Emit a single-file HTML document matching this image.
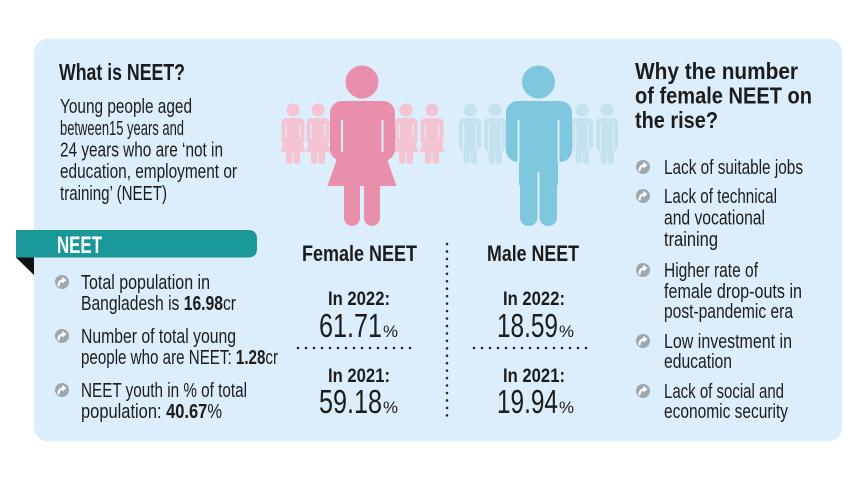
<!DOCTYPE html>
<html>
<head>
<meta charset="utf-8">
<style>
  html,body{margin:0;padding:0;background:#ffffff;}
  svg{display:block;}
  text{font-family:"Liberation Sans", Arial, sans-serif;fill:#1c1c1c;}
  .b{font-weight:bold;}
</style>
</head>
<body>
<svg width="857" height="482" viewBox="0 0 857 482" xmlns="http://www.w3.org/2000/svg">
  <defs>
    <g id="ico">
      <circle cx="0" cy="0" r="7" fill="#9da8ae"/>
      <path d="M-3.5,3.5 Q-3.2,-1.2 1.2,-1.8" fill="none" stroke="#ffffff" stroke-width="2.2" stroke-linecap="round"/>
      <path d="M0.2,-5.2 L4.4,-1.9 L0.4,1.6 Z" fill="#ffffff"/>
    </g>
  </defs>

  <!-- panel -->
  <rect x="34" y="39" width="808" height="402" rx="13" ry="13" fill="#dceefb"/>

  <!-- NEET banner -->
  <path d="M16,230 H248 Q257,230 257,238.5 V249 Q257,257.5 248,257.5 H16 Z" fill="#1a9899"/>
  <path d="M16,257.5 L34,257.5 L34,275 Z" fill="#111111"/>
  <text x="57" y="253" class="b" font-size="24" textLength="45" lengthAdjust="spacingAndGlyphs" style="fill:#ffffff">NEET</text>

  <!-- Left: What is NEET -->
  <text x="59" y="80" class="b" font-size="23" textLength="126" lengthAdjust="spacingAndGlyphs">What is NEET?</text>
  <text x="60" y="113" font-size="20" textLength="132" lengthAdjust="spacingAndGlyphs">Young people aged</text>
  <text x="60" y="135" font-size="20" textLength="124" lengthAdjust="spacingAndGlyphs">between15 years and</text>
  <text x="60" y="156.5" font-size="20" textLength="163" lengthAdjust="spacingAndGlyphs">24 years who are ‘not in</text>
  <text x="60" y="178" font-size="20" textLength="177" lengthAdjust="spacingAndGlyphs">education, employment or</text>
  <text x="60" y="200" font-size="20" textLength="107" lengthAdjust="spacingAndGlyphs">training’ (NEET)</text>

  <!-- Left bullets -->
  <use href="#ico" x="62" y="282"/>
  <text x="81" y="289" font-size="20" textLength="129" lengthAdjust="spacingAndGlyphs">Total population in</text>
  <text x="81" y="310" font-size="20" textLength="155" lengthAdjust="spacingAndGlyphs">Bangladesh is <tspan class="b">16.98</tspan>cr</text>
  <use href="#ico" x="62" y="336"/>
  <text x="81" y="343" font-size="20" textLength="155" lengthAdjust="spacingAndGlyphs">Number of total young</text>
  <text x="81" y="364" font-size="20" textLength="197" lengthAdjust="spacingAndGlyphs">people who are NEET: <tspan class="b">1.28</tspan>cr</text>
  <use href="#ico" x="62" y="390"/>
  <text x="81" y="397" font-size="20" textLength="166" lengthAdjust="spacingAndGlyphs">NEET youth in % of total</text>
  <text x="81" y="418" font-size="20" textLength="141" lengthAdjust="spacingAndGlyphs">population: <tspan class="b">40.67</tspan>%</text>

  <!-- small female figures -->
  <g fill="#f5c4d3">
    <g id="sf">
      <circle cx="293" cy="110" r="6.5"/>
      <rect x="281.5" y="118" width="23" height="27" rx="5"/>
      <path d="M285,138 L301,138 L305.5,152 L280.5,152 Z"/>
      <rect x="286" y="146" width="6.5" height="18" rx="3"/>
      <rect x="293.5" y="146" width="6.5" height="18" rx="3"/>
    </g>
    <use href="#sf" x="25"/>
    <use href="#sf" x="113"/>
    <use href="#sf" x="139"/>
  </g>
  <g fill="#dceefb">
    <rect x="285.5" y="124" width="1.2" height="14"/><rect x="299.3" y="124" width="1.2" height="14"/>
    <rect x="310.5" y="124" width="1.2" height="14"/><rect x="324.3" y="124" width="1.2" height="14"/>
    <rect x="398.5" y="124" width="1.2" height="14"/><rect x="412.3" y="124" width="1.2" height="14"/>
    <rect x="424.5" y="124" width="1.2" height="14"/><rect x="438.3" y="124" width="1.2" height="14"/>
  </g>

  <!-- small male figures -->
  <g fill="#c3e2ee">
    <g id="sm">
      <circle cx="470" cy="110" r="6.5"/>
      <rect x="459" y="118" width="22" height="33" rx="5"/>
      <rect x="463.5" y="140" width="6.5" height="24" rx="3"/>
      <rect x="470.5" y="140" width="6.5" height="24" rx="3"/>
    </g>
    <use href="#sm" x="25"/>
    <use href="#sm" x="112"/>
    <use href="#sm" x="137"/>
  </g>
  <g fill="#dceefb">
    <rect x="463" y="124" width="1.2" height="27"/><rect x="475.8" y="124" width="1.2" height="27"/>
    <rect x="488" y="124" width="1.2" height="27"/><rect x="500.8" y="124" width="1.2" height="27"/>
    <rect x="575" y="124" width="1.2" height="27"/><rect x="587.8" y="124" width="1.2" height="27"/>
    <rect x="600" y="124" width="1.2" height="27"/><rect x="612.8" y="124" width="1.2" height="27"/>
  </g>

  <!-- big female -->
  <g fill="#e98fab">
    <circle cx="362" cy="82" r="16.5"/>
    <rect x="330" y="101" width="65" height="60" rx="12"/>
    <path d="M340,150 L384,150 L396.5,186 L327.5,186 Z"/>
    <rect x="344" y="176" width="16" height="50" rx="8"/>
    <rect x="364" y="176" width="16" height="50" rx="8"/>
  </g>
  <g fill="#dceefb">
    <rect x="341" y="120" width="2" height="32"/>
    <rect x="381.5" y="120" width="2" height="32"/>
  </g>

  <!-- big male -->
  <g fill="#7fc6df">
    <circle cx="538.5" cy="82" r="16.5"/>
    <rect x="506" y="101" width="66" height="61" rx="12"/>
    <rect x="519" y="140" width="39" height="45"/>
    <rect x="520" y="165" width="17.5" height="61" rx="8.5"/>
    <rect x="539.5" y="165" width="17.5" height="61" rx="8.5"/>
  </g>
  <g fill="#dceefb">
    <rect x="517.5" y="120" width="2" height="42"/>
    <rect x="557.5" y="120" width="2" height="42"/>
    <rect x="537.5" y="172" width="2" height="54"/>
  </g>

  <!-- center headings -->
  <text x="302" y="261" class="b" font-size="22" textLength="115" lengthAdjust="spacingAndGlyphs">Female NEET</text>
  <text x="487" y="261" class="b" font-size="22" textLength="92" lengthAdjust="spacingAndGlyphs">Male NEET</text>

  <!-- vertical dotted divider -->
  <line x1="447" y1="244" x2="447" y2="416" stroke="#2a2a2a" stroke-width="2.6" stroke-linecap="round" stroke-dasharray="0 7.45"/>

  <!-- female numbers -->
  <text x="328" y="305" class="b" font-size="19" textLength="62" lengthAdjust="spacingAndGlyphs">In 2022:</text>
  <text x="319" y="337" font-size="33" textLength="63" lengthAdjust="spacingAndGlyphs">61.71</text>
  <text x="383" y="337" font-size="17" textLength="15" lengthAdjust="spacingAndGlyphs">%</text>
  <line x1="298" y1="348" x2="418" y2="348" stroke="#2a2a2a" stroke-width="2.6" stroke-linecap="round" stroke-dasharray="0 8"/>
  <text x="328" y="382" class="b" font-size="19" textLength="62" lengthAdjust="spacingAndGlyphs">In 2021:</text>
  <text x="319" y="413" font-size="33" textLength="63" lengthAdjust="spacingAndGlyphs">59.18</text>
  <text x="383" y="413" font-size="17" textLength="15" lengthAdjust="spacingAndGlyphs">%</text>

  <!-- male numbers -->
  <text x="503" y="305" class="b" font-size="19" textLength="62" lengthAdjust="spacingAndGlyphs">In 2022:</text>
  <text x="497" y="337" font-size="33" textLength="61" lengthAdjust="spacingAndGlyphs">18.59</text>
  <text x="559" y="337" font-size="17" textLength="15" lengthAdjust="spacingAndGlyphs">%</text>
  <line x1="474" y1="348" x2="594" y2="348" stroke="#2a2a2a" stroke-width="2.6" stroke-linecap="round" stroke-dasharray="0 8"/>
  <text x="503" y="382" class="b" font-size="19" textLength="62" lengthAdjust="spacingAndGlyphs">In 2021:</text>
  <text x="497" y="413" font-size="33" textLength="61" lengthAdjust="spacingAndGlyphs">19.94</text>
  <text x="559" y="413" font-size="17" textLength="15" lengthAdjust="spacingAndGlyphs">%</text>

  <!-- right title -->
  <text x="635" y="79" class="b" font-size="23" textLength="163" lengthAdjust="spacingAndGlyphs">Why the number</text>
  <text x="635" y="103.5" class="b" font-size="23" textLength="177" lengthAdjust="spacingAndGlyphs">of female NEET on</text>
  <text x="635" y="128" class="b" font-size="23" textLength="83" lengthAdjust="spacingAndGlyphs">the rise?</text>

  <!-- right bullets -->
  <use href="#ico" x="643" y="167"/>
  <text x="664" y="174" font-size="20" textLength="139" lengthAdjust="spacingAndGlyphs">Lack of suitable jobs</text>
  <use href="#ico" x="643" y="196"/>
  <text x="664" y="203" font-size="20" textLength="113" lengthAdjust="spacingAndGlyphs">Lack of technical</text>
  <text x="664" y="224.5" font-size="20" textLength="101" lengthAdjust="spacingAndGlyphs">and vocational</text>
  <text x="664" y="246" font-size="20" textLength="54" lengthAdjust="spacingAndGlyphs">training</text>
  <use href="#ico" x="643" y="270"/>
  <text x="664" y="277" font-size="20" textLength="94" lengthAdjust="spacingAndGlyphs">Higher rate of</text>
  <text x="664" y="298" font-size="20" textLength="138" lengthAdjust="spacingAndGlyphs">female drop-outs in</text>
  <text x="664" y="318" font-size="20" textLength="129" lengthAdjust="spacingAndGlyphs">post-pandemic era</text>
  <use href="#ico" x="643" y="341"/>
  <text x="664" y="348" font-size="20" textLength="128" lengthAdjust="spacingAndGlyphs">Low investment in</text>
  <text x="664" y="368" font-size="20" textLength="68" lengthAdjust="spacingAndGlyphs">education</text>
  <use href="#ico" x="643" y="391"/>
  <text x="664" y="398" font-size="20" textLength="120" lengthAdjust="spacingAndGlyphs">Lack of social and</text>
  <text x="664" y="418" font-size="20" textLength="124" lengthAdjust="spacingAndGlyphs">economic security</text>
</svg>
</body>
</html>
